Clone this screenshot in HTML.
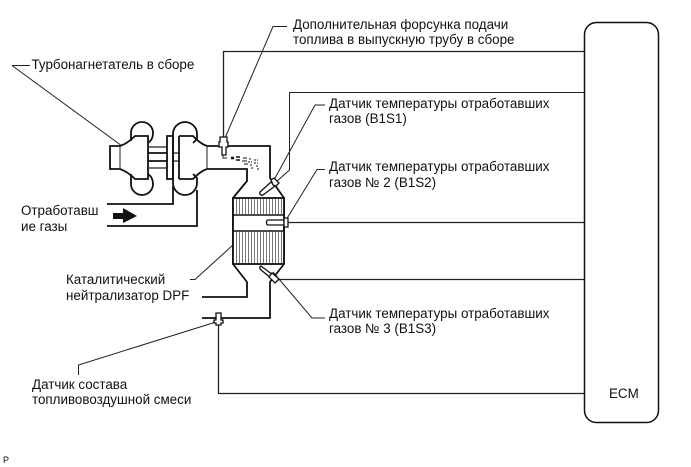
<!DOCTYPE html>
<html><head><meta charset="utf-8">
<style>
html,body{margin:0;padding:0;background:#fff;width:691px;height:467px;overflow:hidden}
svg{display:block}
text{font-family:"Liberation Sans",sans-serif;font-size:13.4px;fill:#111}
.l{fill:none;stroke:#222;stroke-width:1.3}
.t{fill:none;stroke:#222;stroke-width:1}
.h{fill:none;stroke:#111;stroke-width:1.8}
.w{fill:#fff;stroke:#111;stroke-width:1.3}
</style></head><body>
<svg width="691" height="467" viewBox="0 0 691 467" xmlns="http://www.w3.org/2000/svg">
<!-- ECM -->
<rect x="584.500" y="22.500" width="74" height="400" rx="12" ry="12" fill="#fff" stroke="#111" stroke-width="1.500"/>
<text x="609" y="398">ECM</text>

<!-- wires -->
<path class="l" d="M223.500 138V51.500H584"/>
<path class="t" d="M584 92.500H289.500V170L275 183"/>
<path class="l" d="M288 222.500H584"/>
<path class="l" d="M277 279.500H584"/>
<path class="l" d="M218.500 325V393.500H584"/>

<!-- leaders -->
<path class="t" d="M12 65.500H30M12 65.500L122 146"/>
<path class="t" d="M287 26.500H273L225 138"/>
<path class="t" d="M325 105H315L274 180"/>
<path class="t" d="M325 169.500H317L286 220"/>
<path class="t" d="M190 279.500H195L233 245"/>
<path class="t" d="M325 318H312L273 272"/>
<path class="t" d="M78.500 375V365L216 322"/>

<!-- exhaust outlet lines -->
<path class="h" d="M107 204H173V186"/>
<path class="h" d="M107 226H197V190"/>

<!-- compressor -->
<path class="h" d="M120 146H110V169H120C126 171 131 175 135 179H148V136H135C131 140 126 144 120 146Z" fill="#fff"/>
<path class="t" d="M120 146V169" stroke="#666"/>
<path class="h" d="M131 141V133A11 11 0 0 1 153 133C153 138 151 141 148 143"/>
<path class="h" d="M131 174V184A11 11 0 0 0 153 184C153 179 151 176 148 174"/>
<!-- shaft -->
<path class="l" d="M148 147H167M148 168H167"/>
<path class="h" d="M148 153H167M148 161H167"/>
<path class="h" d="M167 136H173V179H167Z" fill="#fff"/>
<path class="l" d="M173 153H179M173 161H179"/>
<!-- turbine bulb -->
<path class="h" d="M173 134A12 12 0 0 1 197 134V139L193 143"/>
<path class="h" d="M173 183A12 12 0 0 0 197 183V178L193 174"/>
<path class="h" d="M173 134V183"/>
<!-- turbine body + pipe -->
<path class="h" d="M179 136H193C197 140 201 144 207 146H270V178L284 198V264L270 282V318H202"/>
<path class="h" d="M179 179H193C197 175 201 171 207 169H247V181L233 198V264L247 282V297H202"/>
<path class="h" d="M179 136V179"/>
<path class="t" d="M207 146V169" stroke="#777"/>

<!-- catalyst -->
<rect x="233" y="198" width="51" height="66" fill="#fff" stroke="#111" stroke-width="1.800"/>
<g stroke="#777" stroke-width="1">
<path d="M236.500 199V214M239.500 199V214M242.500 199V214M245.500 199V214M248.500 199V214M251.500 199V214M254.500 199V214M257.500 199V214M260.500 199V214M263.500 199V214M266.500 199V214M269.500 199V214M272.500 199V214M275.500 199V214M278.500 199V214M281.500 199V214"/>
<path d="M236.500 232V263M239.500 232V263M242.500 232V263M245.500 232V263M248.500 232V263M251.500 232V263M254.500 232V263M257.500 232V263M260.500 232V263M263.500 232V263M266.500 232V263M269.500 232V263M272.500 232V263M275.500 232V263M278.500 232V263M281.500 232V263"/>
</g>
<path d="M233 215H284M233 231H284" stroke="#111" stroke-width="1.500"/>

<!-- fuel injector -->
<path class="w" d="M220 137H227V142H228V147H226V155H222V147H219V142H220Z"/>
<path class="t" d="M223 155V158H227"/>
<g stroke="#111" fill="none">
<path d="M231 158H234" stroke-width="2.500"/>
<path d="M236 157H240M236 160H240" stroke-width="1.500"/>
<path d="M243 158H247M242 161H247M244 164H248" stroke-width="1"/>
<path d="M249 159H252M248 162H252M250 165H253M251 168H254" stroke-width="1" stroke-dasharray="2 1"/>
<path d="M254 160H258M254 163H258M256 166H259M257 169H259" stroke-width="1" stroke-dasharray="2 1"/>
</g>

<!-- sensor 1 -->
<path class="w" d="M260 192L271 182L275 186L263 195C261 196 259 194 260 192Z"/>
<path class="w" d="M271 180L274 178L279 183L276 186L273 185Z"/>
<!-- sensor 2 -->
<path class="w" d="M268 220H284V225H268C266 225 266 220 268 220Z"/>
<path class="w" d="M284 218H288V227H284Z"/>
<!-- sensor 3 -->
<path class="w" d="M261 266L273 275L271 278L261 270C259 268 260 266 261 266Z"/>
<path class="w" d="M272 273L279 279L275 283L269 277Z"/>
<!-- A/F sensor -->
<path class="w" d="M216 313H221V320H223V323H221V325H216V323H214V320H216Z"/>

<!-- flow arrow -->
<path d="M113 213H123V208L137 216L123 223V219H113Z" fill="#111"/>

<!-- labels -->
<text x="31.500" y="69">Турбонагнетатель в сборе</text>
<text x="293" y="29">Дополнительная форсунка подачи</text>
<text x="293" y="44">топлива в выпускную трубу в сборе</text>
<text x="329" y="108">Датчик температуры отработавших</text>
<text x="329" y="123">газов (B1S1)</text>
<text x="329" y="171">Датчик температуры отработавших</text>
<text x="329" y="187">газов № 2 (B1S2)</text>
<text x="329" y="318">Датчик температуры отработавших</text>
<text x="329" y="333">газов № 3 (B1S3)</text>
<text x="21" y="215">Отработавш</text>
<text x="21" y="231">ие газы</text>
<text x="66" y="284">Каталитический</text>
<text x="66" y="300">нейтрализатор DPF</text>
<text x="32" y="389">Датчик состава</text>
<text x="32" y="404">топливовоздушной смеси</text>
<text x="3" y="463" style="font-size:9px">P</text>
</svg>
</body></html>
